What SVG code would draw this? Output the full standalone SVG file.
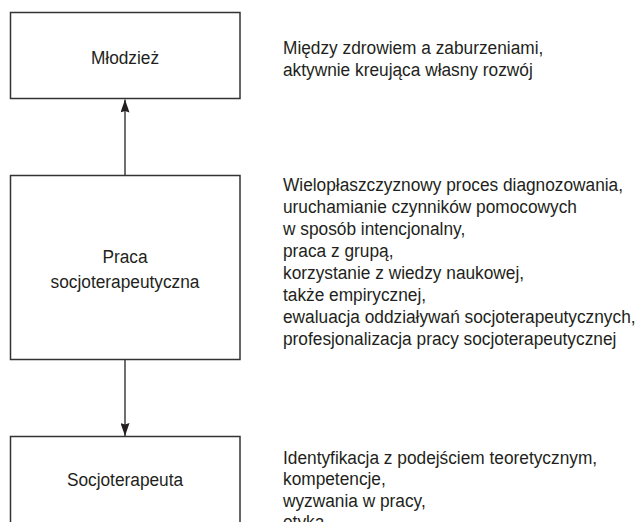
<svg xmlns="http://www.w3.org/2000/svg" width="640" height="522" viewBox="0 0 640 522">
<defs>
<style>
.box{fill:#fff;stroke:#333;stroke-width:1.5}
.lbl{font-family:"Liberation Sans",Arial,sans-serif;font-size:19px;fill:#231f20;text-anchor:middle}
.desc{font-family:"Liberation Sans",Arial,sans-serif;font-size:19px;fill:#231f20}
.conn{stroke:#333;stroke-width:1.4;fill:none}
</style>
<marker id="ah" viewBox="0 0 13 9" refX="13" refY="4.5" markerWidth="13" markerHeight="9" markerUnits="userSpaceOnUse" orient="auto">
<path d="M0,0 L13,4.5 L0,9 L1.5,4.5 z" fill="#231f20"/>
</marker>
</defs>
<rect width="640" height="522" fill="#fff"/>
<g id="connectors">
<line class="conn" x1="125" y1="175.5" x2="125" y2="99.5" marker-end="url(#ah)"/>
<line class="conn" x1="125" y1="359.5" x2="125" y2="436" marker-end="url(#ah)"/>
</g>
<g id="mlodziez">
<rect class="box" x="10.5" y="12.5" width="229.5" height="86"/>
<g transform="translate(125,0) scale(0.91,1)"><text class="lbl" x="0" y="64">Młodzież</text></g>
</g>
<g id="praca">
<rect class="box" x="10.5" y="175.5" width="229.5" height="184"/>
<g transform="translate(125,0) scale(0.91,1)">
<text class="lbl" x="0" y="263">Praca</text>
<text class="lbl" x="0" y="288">socjoterapeutyczna</text>
</g>
</g>
<g id="socjoterapeuta">
<rect class="box" x="10.5" y="436.5" width="229.5" height="100"/>
<g transform="translate(125,0) scale(0.91,1)"><text class="lbl" x="0" y="486">Socjoterapeuta</text></g>
</g>
<g id="desc-mlodziez" transform="translate(283,0) scale(0.91,1)">
<text class="desc" x="0" y="54">Między zdrowiem a zaburzeniami,</text>
<text class="desc" x="0" y="76">aktywnie kreująca własny rozwój</text>
</g>
<g id="desc-praca" transform="translate(283,0) scale(0.91,1)">
<text class="desc" x="0" y="191">Wielopłaszczyznowy proces diagnozowania,</text>
<text class="desc" x="0" y="213">uruchamianie czynników pomocowych</text>
<text class="desc" x="0" y="235">w sposób intencjonalny,</text>
<text class="desc" x="0" y="257">praca z grupą,</text>
<text class="desc" x="0" y="279">korzystanie z wiedzy naukowej,</text>
<text class="desc" x="0" y="301">także empirycznej,</text>
<text class="desc" x="0" y="323">ewaluacja oddziaływań socjoterapeutycznych,</text>
<text class="desc" x="0" y="345">profesjonalizacja pracy socjoterapeutycznej</text>
</g>
<g id="desc-socjoterapeuta" transform="translate(283,0) scale(0.91,1)">
<text class="desc" x="0" y="464">Identyfikacja z podejściem teoretycznym,</text>
<text class="desc" x="0" y="485.5">kompetencje,</text>
<text class="desc" x="0" y="507">wyzwania w pracy,</text>
<text class="desc" x="0" y="528.5">etyka</text>
</g>
</svg>
